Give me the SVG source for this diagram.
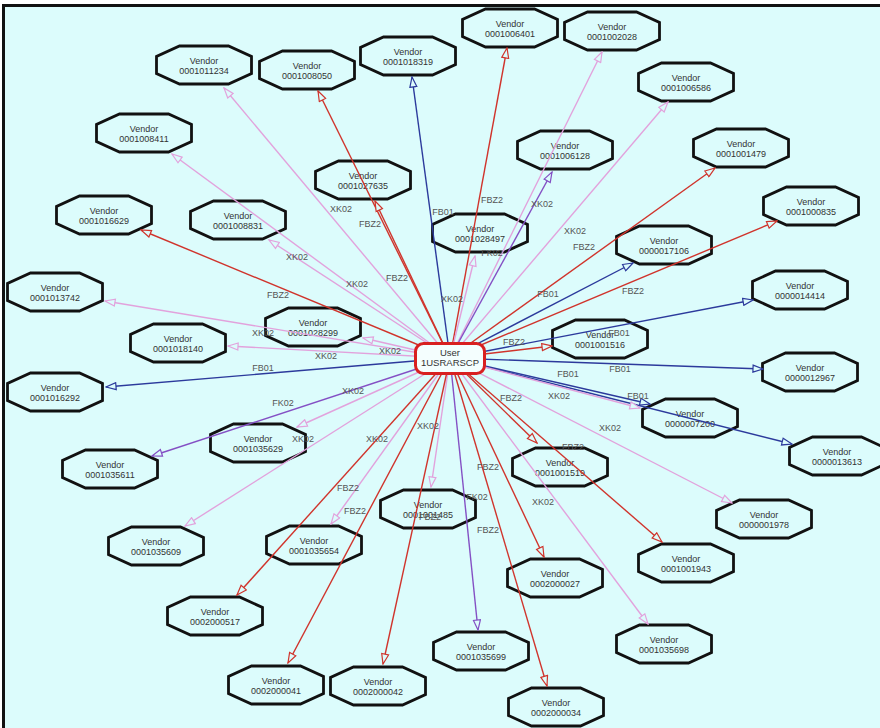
<svg xmlns="http://www.w3.org/2000/svg" width="880" height="728" viewBox="0 0 880 728">
<style>
.oct{fill:#dcfcfc;stroke:#111;stroke-width:2.8;stroke-linejoin:miter}
.nt{font-family:"Liberation Sans",Arial,sans-serif;font-size:9px;fill:#333;text-anchor:middle}
.lb{font-family:"Liberation Sans",Arial,sans-serif;font-size:9px;fill:#555;text-anchor:middle}
.e{fill:none;stroke-width:1.4}
.r{stroke:#d0342c;marker-end:url(#ar)}
.p{stroke:#e2a2dc;marker-end:url(#ap)}
.b{stroke:#2c3a9c;marker-end:url(#ab)}
.v{stroke:#8450c4;marker-end:url(#av)}
</style>
<defs>
<polygon id="oct" points="-24.5,-19 24.5,-19 47.5,-8.5 47.5,8.5 24.5,19 -24.5,19 -47.5,8.5 -47.5,-8.5"/>
<marker id="ar" viewBox="-1 -1 12 9" refX="10" refY="3.5" markerWidth="12" markerHeight="9" markerUnits="userSpaceOnUse" orient="auto"><path d="M0,0 L10,3.5 L0,7 z" fill="#dcfcfc" stroke="#d0342c" stroke-width="1.2"/></marker>
<marker id="ap" viewBox="-1 -1 12 9" refX="10" refY="3.5" markerWidth="12" markerHeight="9" markerUnits="userSpaceOnUse" orient="auto"><path d="M0,0 L10,3.5 L0,7 z" fill="#dcfcfc" stroke="#e2a2dc" stroke-width="1.2"/></marker>
<marker id="ab" viewBox="-1 -1 12 9" refX="10" refY="3.5" markerWidth="12" markerHeight="9" markerUnits="userSpaceOnUse" orient="auto"><path d="M0,0 L10,3.5 L0,7 z" fill="#dcfcfc" stroke="#2c3a9c" stroke-width="1.2"/></marker>
<marker id="av" viewBox="-1 -1 12 9" refX="10" refY="3.5" markerWidth="12" markerHeight="9" markerUnits="userSpaceOnUse" orient="auto"><path d="M0,0 L10,3.5 L0,7 z" fill="#dcfcfc" stroke="#8450c4" stroke-width="1.2"/></marker>
</defs>
<rect x="0" y="0" width="880" height="728" fill="#ffffff"/>
<rect x="3.5" y="5.5" width="890" height="740" fill="#dcfcfc" stroke="#111" stroke-width="3"/>

<g id="v0001011234"><use href="#oct" x="204" y="65" class="oct"/><text class="nt" x="204" y="64">Vendor</text><text class="nt" x="204" y="73.5">0001011234</text></g>
<g id="v0001008050"><use href="#oct" x="307" y="70" class="oct"/><text class="nt" x="307" y="69">Vendor</text><text class="nt" x="307" y="78.5">0001008050</text></g>
<g id="v0001018319"><use href="#oct" x="408" y="56" class="oct"/><text class="nt" x="408" y="55">Vendor</text><text class="nt" x="408" y="64.5">0001018319</text></g>
<g id="v0001006401"><use href="#oct" x="510" y="28" class="oct"/><text class="nt" x="510" y="27">Vendor</text><text class="nt" x="510" y="36.5">0001006401</text></g>
<g id="v0001002028"><use href="#oct" x="612" y="31" class="oct"/><text class="nt" x="612" y="30">Vendor</text><text class="nt" x="612" y="39.5">0001002028</text></g>
<g id="v0001006586"><use href="#oct" x="686" y="82" class="oct"/><text class="nt" x="686" y="81">Vendor</text><text class="nt" x="686" y="90.5">0001006586</text></g>
<g id="v0001001479"><use href="#oct" x="741" y="148" class="oct"/><text class="nt" x="741" y="147">Vendor</text><text class="nt" x="741" y="156.5">0001001479</text></g>
<g id="v0001000835"><use href="#oct" x="811" y="206" class="oct"/><text class="nt" x="811" y="205">Vendor</text><text class="nt" x="811" y="214.5">0001000835</text></g>
<g id="v0000017106"><use href="#oct" x="664" y="245" class="oct"/><text class="nt" x="664" y="244">Vendor</text><text class="nt" x="664" y="253.5">0000017106</text></g>
<g id="v0001006128"><use href="#oct" x="565" y="150" class="oct"/><text class="nt" x="565" y="149">Vendor</text><text class="nt" x="565" y="158.5">0001006128</text></g>
<g id="v0001027635"><use href="#oct" x="363" y="180" class="oct"/><text class="nt" x="363" y="179">Vendor</text><text class="nt" x="363" y="188.5">0001027635</text></g>
<g id="v0001028497"><use href="#oct" x="480" y="233" class="oct"/><text class="nt" x="480" y="232">Vendor</text><text class="nt" x="480" y="241.5">0001028497</text></g>
<g id="v0001008411"><use href="#oct" x="144" y="133" class="oct"/><text class="nt" x="144" y="132">Vendor</text><text class="nt" x="144" y="141.5">0001008411</text></g>
<g id="v0001016629"><use href="#oct" x="104" y="215" class="oct"/><text class="nt" x="104" y="214">Vendor</text><text class="nt" x="104" y="223.5">0001016629</text></g>
<g id="v0001008831"><use href="#oct" x="238" y="220" class="oct"/><text class="nt" x="238" y="219">Vendor</text><text class="nt" x="238" y="228.5">0001008831</text></g>
<g id="v0001013742"><use href="#oct" x="55" y="292" class="oct"/><text class="nt" x="55" y="291">Vendor</text><text class="nt" x="55" y="300.5">0001013742</text></g>
<g id="v0001028299"><use href="#oct" x="313" y="327" class="oct"/><text class="nt" x="313" y="326">Vendor</text><text class="nt" x="313" y="335.5">0001028299</text></g>
<g id="v0001018140"><use href="#oct" x="178" y="343" class="oct"/><text class="nt" x="178" y="342">Vendor</text><text class="nt" x="178" y="351.5">0001018140</text></g>
<g id="v0001016292"><use href="#oct" x="55" y="392" class="oct"/><text class="nt" x="55" y="391">Vendor</text><text class="nt" x="55" y="400.5">0001016292</text></g>
<g id="v0001035629"><use href="#oct" x="258" y="443" class="oct"/><text class="nt" x="258" y="442">Vendor</text><text class="nt" x="258" y="451.5">0001035629</text></g>
<g id="v0001035611"><use href="#oct" x="110" y="469" class="oct"/><text class="nt" x="110" y="468">Vendor</text><text class="nt" x="110" y="477.5">0001035611</text></g>
<g id="v0001035609"><use href="#oct" x="156" y="546" class="oct"/><text class="nt" x="156" y="545">Vendor</text><text class="nt" x="156" y="554.5">0001035609</text></g>
<g id="v0001035654"><use href="#oct" x="314" y="545" class="oct"/><text class="nt" x="314" y="544">Vendor</text><text class="nt" x="314" y="553.5">0001035654</text></g>
<g id="v0002000517"><use href="#oct" x="215" y="616" class="oct"/><text class="nt" x="215" y="615">Vendor</text><text class="nt" x="215" y="624.5">0002000517</text></g>
<g id="v0002000041"><use href="#oct" x="276" y="685" class="oct"/><text class="nt" x="276" y="684">Vendor</text><text class="nt" x="276" y="693.5">0002000041</text></g>
<g id="v0002000042"><use href="#oct" x="378" y="686" class="oct"/><text class="nt" x="378" y="685">Vendor</text><text class="nt" x="378" y="694.5">0002000042</text></g>
<g id="v0001001485"><use href="#oct" x="428" y="509" class="oct"/><text class="nt" x="428" y="508">Vendor</text><text class="nt" x="428" y="517.5">0001001485</text></g>
<g id="v0001035699"><use href="#oct" x="481" y="651" class="oct"/><text class="nt" x="481" y="650">Vendor</text><text class="nt" x="481" y="659.5">0001035699</text></g>
<g id="v0002000034"><use href="#oct" x="556" y="707" class="oct"/><text class="nt" x="556" y="706">Vendor</text><text class="nt" x="556" y="715.5">0002000034</text></g>
<g id="v0002000027"><use href="#oct" x="555" y="578" class="oct"/><text class="nt" x="555" y="577">Vendor</text><text class="nt" x="555" y="586.5">0002000027</text></g>
<g id="v0001001519"><use href="#oct" x="560" y="467" class="oct"/><text class="nt" x="560" y="466">Vendor</text><text class="nt" x="560" y="475.5">0001001519</text></g>
<g id="v0001001943"><use href="#oct" x="686" y="563" class="oct"/><text class="nt" x="686" y="562">Vendor</text><text class="nt" x="686" y="571.5">0001001943</text></g>
<g id="v0000001978"><use href="#oct" x="764" y="519" class="oct"/><text class="nt" x="764" y="518">Vendor</text><text class="nt" x="764" y="527.5">0000001978</text></g>
<g id="v0001035698"><use href="#oct" x="664" y="644" class="oct"/><text class="nt" x="664" y="643">Vendor</text><text class="nt" x="664" y="652.5">0001035698</text></g>
<g id="v0000007200"><use href="#oct" x="690" y="418" class="oct"/><text class="nt" x="690" y="417">Vendor</text><text class="nt" x="690" y="426.5">0000007200</text></g>
<g id="v0000013613"><use href="#oct" x="837" y="456" class="oct"/><text class="nt" x="837" y="455">Vendor</text><text class="nt" x="837" y="464.5">0000013613</text></g>
<g id="v0000012967"><use href="#oct" x="810" y="372" class="oct"/><text class="nt" x="810" y="371">Vendor</text><text class="nt" x="810" y="380.5">0000012967</text></g>
<g id="v0000014414"><use href="#oct" x="800" y="290" class="oct"/><text class="nt" x="800" y="289">Vendor</text><text class="nt" x="800" y="298.5">0000014414</text></g>
<g id="v0001001516"><use href="#oct" x="600" y="339" class="oct"/><text class="nt" x="600" y="338">Vendor</text><text class="nt" x="600" y="347.5">0001001516</text></g>

<g id="connectors">
<line class="e p" x1="450" y1="358" x2="224" y2="88"/>
<line class="e r" x1="450" y1="358" x2="318" y2="91"/>
<line class="e b" x1="450" y1="358" x2="412" y2="77"/>
<line class="e r" x1="450" y1="358" x2="507" y2="48"/>
<line class="e p" x1="450" y1="358" x2="602" y2="52"/>
<line class="e v" x1="450" y1="358" x2="552" y2="172"/>
<line class="e p" x1="450" y1="358" x2="668" y2="102"/>
<line class="e r" x1="450" y1="358" x2="715" y2="168"/>
<line class="e r" x1="450" y1="358" x2="777" y2="221"/>
<line class="e b" x1="450" y1="358" x2="633" y2="263"/>
<line class="e b" x1="450" y1="358" x2="753" y2="300"/>
<line class="e r" x1="450" y1="358" x2="552" y2="346"/>
<line class="e b" x1="450" y1="358" x2="763" y2="369"/>
<line class="e b" x1="450" y1="358" x2="650" y2="404"/>
<line class="e b" x1="450" y1="358" x2="792" y2="444"/>
<line class="e p" x1="450" y1="358" x2="640" y2="408"/>
<line class="e p" x1="450" y1="358" x2="732" y2="503"/>
<line class="e r" x1="450" y1="358" x2="662" y2="542"/>
<line class="e r" x1="450" y1="358" x2="537" y2="443"/>
<line class="e p" x1="450" y1="358" x2="648" y2="624"/>
<line class="e r" x1="450" y1="358" x2="544" y2="557"/>
<line class="e r" x1="450" y1="358" x2="547" y2="686"/>
<line class="e v" x1="450" y1="358" x2="478" y2="630"/>
<line class="e p" x1="450" y1="358" x2="431" y2="487"/>
<line class="e r" x1="450" y1="358" x2="383" y2="664"/>
<line class="e r" x1="450" y1="358" x2="288" y2="663"/>
<line class="e r" x1="450" y1="358" x2="237" y2="595"/>
<line class="e p" x1="450" y1="358" x2="331" y2="524"/>
<line class="e p" x1="450" y1="358" x2="185" y2="526"/>
<line class="e p" x1="450" y1="358" x2="297" y2="427"/>
<line class="e v" x1="450" y1="358" x2="152" y2="456"/>
<line class="e b" x1="450" y1="358" x2="106" y2="387"/>
<line class="e p" x1="450" y1="358" x2="228" y2="346"/>
<line class="e p" x1="450" y1="358" x2="363" y2="338"/>
<line class="e p" x1="450" y1="358" x2="105" y2="301"/>
<line class="e r" x1="450" y1="358" x2="141" y2="230"/>
<line class="e p" x1="450" y1="358" x2="269" y2="240"/>
<line class="e p" x1="450" y1="358" x2="172" y2="154"/>
<line class="e r" x1="450" y1="358" x2="375" y2="201"/>
<line class="e p" x1="450" y1="358" x2="475" y2="256"/>
<g id="labels">
<text class="lb" x="341" y="212">XK02</text>
<text class="lb" x="370" y="227">FBZ2</text>
<text class="lb" x="443" y="215">FB01</text>
<text class="lb" x="492" y="203">FBZ2</text>
<text class="lb" x="542" y="207">XK02</text>
<text class="lb" x="492" y="256">FK02</text>
<text class="lb" x="575" y="234">XK02</text>
<text class="lb" x="584" y="250">FBZ2</text>
<text class="lb" x="633" y="294">FBZ2</text>
<text class="lb" x="548" y="297">FB01</text>
<text class="lb" x="619" y="336">FB01</text>
<text class="lb" x="514" y="345">FBZ2</text>
<text class="lb" x="620" y="372">FB01</text>
<text class="lb" x="568" y="377">FB01</text>
<text class="lb" x="638" y="399">FB01</text>
<text class="lb" x="559" y="399">XK02</text>
<text class="lb" x="610" y="431">XK02</text>
<text class="lb" x="573" y="450">FBZ2</text>
<text class="lb" x="511" y="401">FBZ2</text>
<text class="lb" x="543" y="505">XK02</text>
<text class="lb" x="488" y="470">FBZ2</text>
<text class="lb" x="488" y="533">FBZ2</text>
<text class="lb" x="477" y="500">FK02</text>
<text class="lb" x="428" y="429">XK02</text>
<text class="lb" x="430" y="520">FBZ2</text>
<text class="lb" x="355" y="514">FBZ2</text>
<text class="lb" x="348" y="491">FBZ2</text>
<text class="lb" x="377" y="442">XK02</text>
<text class="lb" x="303" y="442">XK02</text>
<text class="lb" x="353" y="394">XK02</text>
<text class="lb" x="283" y="406">FK02</text>
<text class="lb" x="263" y="371">FB01</text>
<text class="lb" x="326" y="359">XK02</text>
<text class="lb" x="390" y="354">XK02</text>
<text class="lb" x="263" y="336">XK02</text>
<text class="lb" x="278" y="298">FBZ2</text>
<text class="lb" x="357" y="287">XK02</text>
<text class="lb" x="297" y="260">XK02</text>
<text class="lb" x="397" y="281">FBZ2</text>
<text class="lb" x="452" y="302">XK02</text>
</g>
</g>

<g id="user1USRARSCP">
<rect x="415.5" y="343.5" width="69" height="30" rx="8" ry="8" fill="#f4fefe" stroke="#d82020" stroke-width="3"/>
<text class="nt" x="450" y="356" style="font-size:9.5px">User</text>
<text class="nt" x="450" y="366" style="font-size:9.5px">1USRARSCP</text>
</g>
</svg>
